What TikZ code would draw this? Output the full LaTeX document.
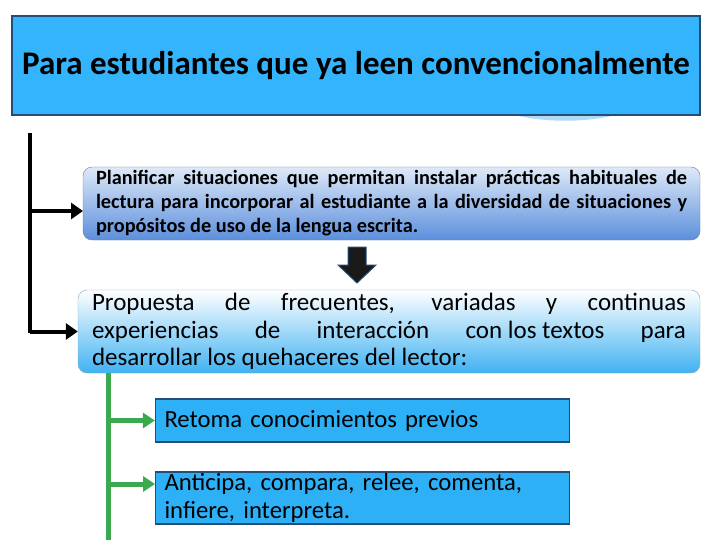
\documentclass[tikz,border=0pt]{standalone}
\usepackage{fontspec}
\setmainfont{Carlito}
\usetikzlibrary{arrows.meta,positioning}

\definecolor{titleblue}{RGB}{52,180,252}
\definecolor{edgeblue}{RGB}{36,78,120}
\definecolor{shadeblue}{RGB}{175,218,248}
\definecolor{planbot}{RGB}{92,143,220}
\definecolor{plantop}{RGB}{222,233,248}
\definecolor{propbot}{RGB}{64,178,242}
\definecolor{itemblue}{RGB}{45,176,245}
\definecolor{leafgreen}{RGB}{59,170,78}

\begin{document}
\begin{tikzpicture}[x=1pt,y=-1pt,
  titlebox/.style={draw=edgeblue,fill=titleblue,line width=1.2pt,
    minimum width=688pt,minimum height=99pt,
    font=\fontsize{33}{38}\selectfont\bfseries},
  planbox/.style={draw=edgeblue!70,rounded corners=9pt,top color=plantop,bottom color=planbot,
    text width=591pt,inner xsep=13pt,inner ysep=2pt,minimum height=73pt,align=justify,
    font=\fontsize{20.3}{24}\selectfont\bfseries},
  propbox/.style={draw=edgeblue!50,rounded corners=9pt,top color=white,bottom color=propbot,
    text width=594pt,inner xsep=14pt,inner ysep=2pt,minimum height=83pt,align=justify,
    font=\fontsize{25}{27.5}\selectfont},
  itembox/.style={draw=edgeblue,fill=itemblue,line width=1.2pt,
    text width=396pt,inner xsep=9pt,inner ysep=0pt,align=left,
    font=\fontsize{24.7}{28}\selectfont},
  blackline/.style={line width=4pt,-{Triangle[length=12pt,width=16pt]}},
  greenline/.style={draw=leafgreen,line width=5pt},
  greenarrow/.style={greenline,-{Triangle[length=12pt,width=15pt]}}]

\useasboundingbox (0,0) rectangle (720,540);

% heading
\fill[shadeblue] (510,114) .. controls (545,123) and (585,123) .. (620,114) -- cycle;
\node[titlebox] (T) at (356,65.5) {Para estudiantes que ya leen convencionalmente};

% main boxes
\node[planbox] (P) at (391.5,203.5) {Planificar situaciones que permitan instalar prácticas habituales de\linebreak
lectura para incorporar al estudiante a la diversidad de situaciones y\linebreak
propósitos de uso de la lengua escrita.};
\node[propbox] (Q) at (389,331.5) {Propuesta de frecuentes, variadas y continuas\linebreak
experiencias de interacción \mbox{con los textos} para\linebreak
desarrollar los quehaceres del lector:};

% block arrow between the boxes
\filldraw[draw=edgeblue,fill=black!90,line width=1pt]
  (348,247) -- (366,247) -- (366,265) -- (376,265) -- (357,283) -- (338,265) -- (348,265) -- cycle;

% reader tasks
\node[itembox,minimum height=43pt] (R) at (362.5,420.5) {Retoma conocimientos previos};
\node[itembox,minimum height=52pt] (A) at (362.5,498) {Anticipa, compara, relee, comenta,\\infiere, interpreta.};

% connectors
\coordinate (k0) at (30,133);
\coordinate (k1) at (30,211);
\coordinate (k2) at (83,211);
\coordinate (g0) at (108,373);
\coordinate (g2) at (108,484);
\coordinate (g2e) at (155,484);
\coordinate (g3) at (108,540);

\draw[line width=4pt] (k0) -- (30,333);
\draw[blackline] (k1) -- (k2);
\draw[blackline] (30,331.5) -- (Q.west);
\draw[greenline] (g0) -- (g3);
\draw[greenarrow] (108,420.5) -- (R.west);
\draw[greenarrow] (g2) -- (g2e);

\end{tikzpicture}
\end{document}
